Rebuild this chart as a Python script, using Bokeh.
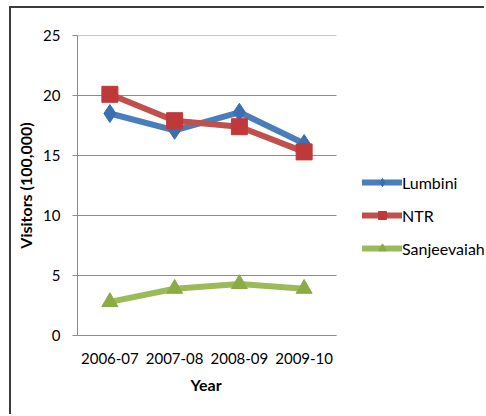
from bokeh.plotting import figure
from bokeh.models import Legend, LegendItem, Range1d, FixedTicker, Title
from bokeh.embed import file_html
from bokeh.resources import INLINE

years = ["2006-07", "2007-08", "2008-09", "2009-10"]
lumbini = [18.5, 17.1, 18.6, 16.0]
ntr = [20.1, 17.9, 17.4, 15.3]
sanjeevaiah = [2.8, 3.9, 4.3, 3.9]
y_ticks = [0, 5, 10, 15, 20, 25]

FONT = "Lato"
GRID = "#8c8c8c"

n = len(years)
xpos = [i + 0.5 for i in range(n)]

# figure sits inside a chart border (left/top border visible)
W, H = 475, 408
ML, MT, MB = 66, 27, 81
frame_w = 259
x_end = n * (W - ML) / frame_w

p = figure(width=W, height=H, x_range=Range1d(0, x_end), y_range=Range1d(0, 25),
           output_backend="svg", toolbar_location=None,
           min_border_left=ML, min_border_right=0, min_border_top=MT, min_border_bottom=MB)
p.styles = {"margin-left": "9px", "margin-top": "6px",
            "border-left": "2px solid #3c3c3c", "border-top": "2px solid #3c3c3c"}
p.outline_line_color = None
p.background_fill_color = "white"
p.border_fill_color = "white"
p.xgrid.grid_line_color = None
p.ygrid.grid_line_color = None

# horizontal gridlines only across the plot area
p.segment(x0=[0] * len(y_ticks), x1=[n] * len(y_ticks), y0=y_ticks, y1=y_ticks,
          line_color=GRID, line_width=1)

p.yaxis.ticker = FixedTicker(ticks=y_ticks)
p.xaxis.ticker = FixedTicker(ticks=xpos)
p.xaxis.major_label_overrides = {x: y for x, y in zip(xpos, years)}
p.xaxis.bounds = (0, n)

for ax in (p.xaxis, p.yaxis):
    ax.axis_line_color = GRID
    ax.major_label_text_font = FONT
    ax.major_label_text_font_size = "15px"
    ax.major_label_text_color = "#000000"
    ax.axis_label_text_font = FONT
    ax.axis_label_text_font_size = "16px"
    ax.axis_label_text_font_style = "bold"
    ax.axis_label_text_color = "#000000"
    ax.minor_tick_line_color = None
p.yaxis.major_tick_out = 5
p.yaxis.major_tick_in = 0
p.yaxis.major_tick_line_color = GRID
p.yaxis.major_label_standoff = 12
p.yaxis.axis_label = "Visitors (100,000)"
p.yaxis.axis_label_standoff = 5
p.xaxis.major_tick_line_color = None
p.xaxis.major_tick_out = 0
p.xaxis.major_tick_in = 0
p.xaxis.major_label_standoff = 17

# x axis title centred under the plot area
x_title = Title(text="Year", align="left", offset=113, standoff=12,
                text_font=FONT, text_font_size="16px", text_font_style="bold",
                text_color="#000000")
p.add_layout(x_title, "below")

series = [
    ("Lumbini", lumbini, "#4A7EBB", "#3A6FB2", "diamond", 18),
    ("NTR", ntr, "#C0504D", "#C0393A", "square", 16),
    ("Sanjeevaiah", sanjeevaiah, "#9BBB59", "#8AAB45", "triangle", 16),
]
items = []
for name, vals, lc, mc, marker, sz in series:
    r1 = p.line(xpos, vals, line_color=lc, line_width=6, line_cap="round", line_join="round")
    r2 = p.scatter(xpos, vals, marker=marker, size=sz, fill_color=mc, line_color=mc, line_width=1)
    items.append(LegendItem(label=name, renderers=[r1, r2]))

legend = Legend(items=items, location=(285, 77), orientation="vertical",
                label_text_font=FONT, label_text_font_size="16px", label_text_color="#000000",
                glyph_width=40, glyph_height=20, label_height=20, spacing=13, label_standoff=0,
                border_line_color=None, background_fill_alpha=0, padding=0, margin=0)
p.add_layout(legend, "center")

open("out.html", "w").write(file_html(p, INLINE))
